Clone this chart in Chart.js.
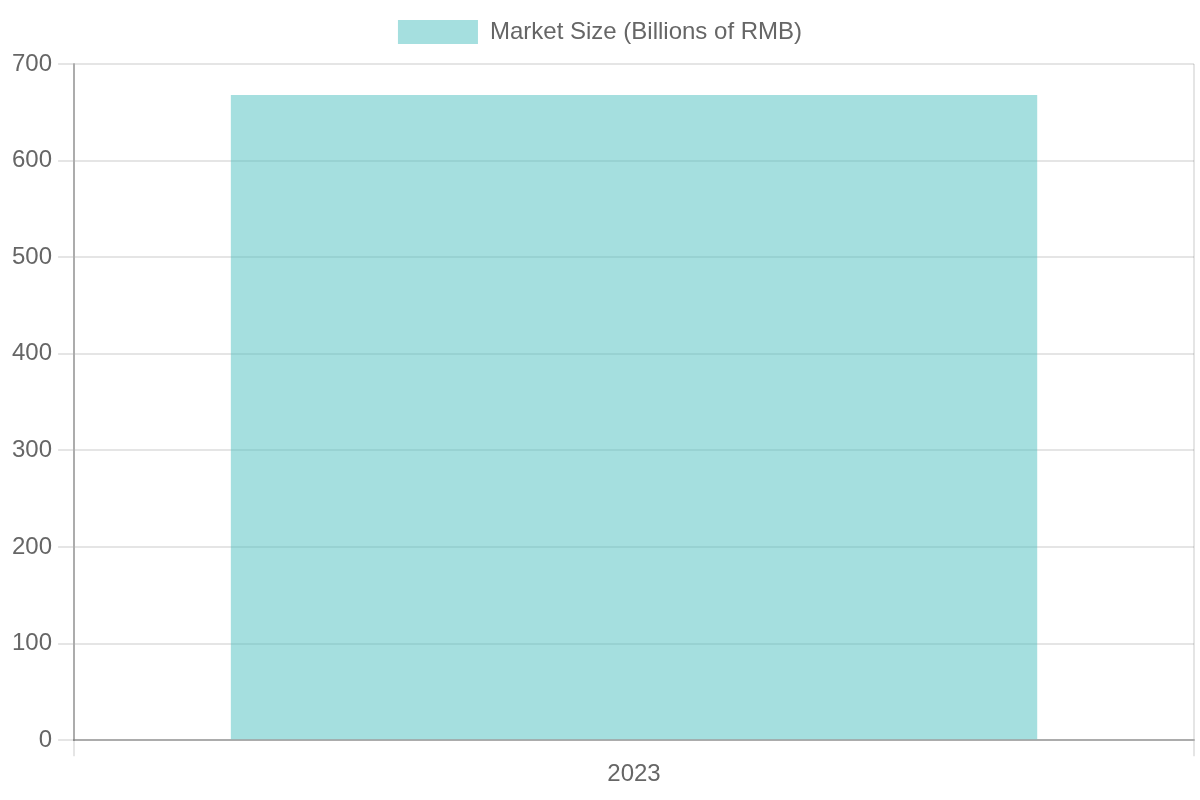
<!DOCTYPE html>
<html>
<head>
<meta charset="utf-8">
<script src="https://cdn.jsdelivr.net/npm/chart.js@4"></script>
<style>
  html, body { margin: 0; padding: 0; background: #fff; }
  #wrap { width: 1200px; height: 800px; position: relative; }
</style>
</head>
<body>
<div id="wrap"><canvas id="marketChart"></canvas></div>
<script>
// Market size data
const years = ['2023'];
const marketSize = [668];
const yTicksMax = 700;

// the reference was drawn at 2x, so the default sizes are doubled here
const S = 2;
Chart.defaults.font.size = 12 * S;

const axisBorder = { color: 'rgba(0, 0, 0, 0.25)', width: 1 * S };
const axisGrid = { lineWidth: 1 * S, tickLength: 8 * S };

// a bit of extra room between the legend and the plot
const legendGap = {
  id: 'legendGap',
  beforeInit(chart) {
    const fit = chart.legend.fit;
    chart.legend.fit = function () {
      fit.bind(chart.legend)();
      this.height += 10;
    };
  }
};

const ctx = document.getElementById('marketChart');
new Chart(ctx, {
  type: 'bar',
  data: {
    labels: years,
    datasets: [{
      label: 'Market Size (Billions of RMB)',
      data: marketSize,
      backgroundColor: 'rgba(75, 192, 192, 0.5)',
      borderWidth: 0
    }]
  },
  options: {
    responsive: true,
    maintainAspectRatio: false,
    devicePixelRatio: 1,
    animation: false,
    layout: { padding: { left: 6, right: 6, top: 0, bottom: 7 } },
    plugins: {
      legend: {
        labels: { boxWidth: 40 * S, padding: 10 * S }
      }
    },
    scales: {
      y: {
        beginAtZero: true,
        max: yTicksMax,
        border: axisBorder,
        grid: axisGrid,
        ticks: { padding: 6 }
      },
      x: {
        border: axisBorder,
        grid: axisGrid,
        ticks: { padding: 4 }
      }
    }
  },
  plugins: [legendGap]
});
</script>
</body>
</html>
